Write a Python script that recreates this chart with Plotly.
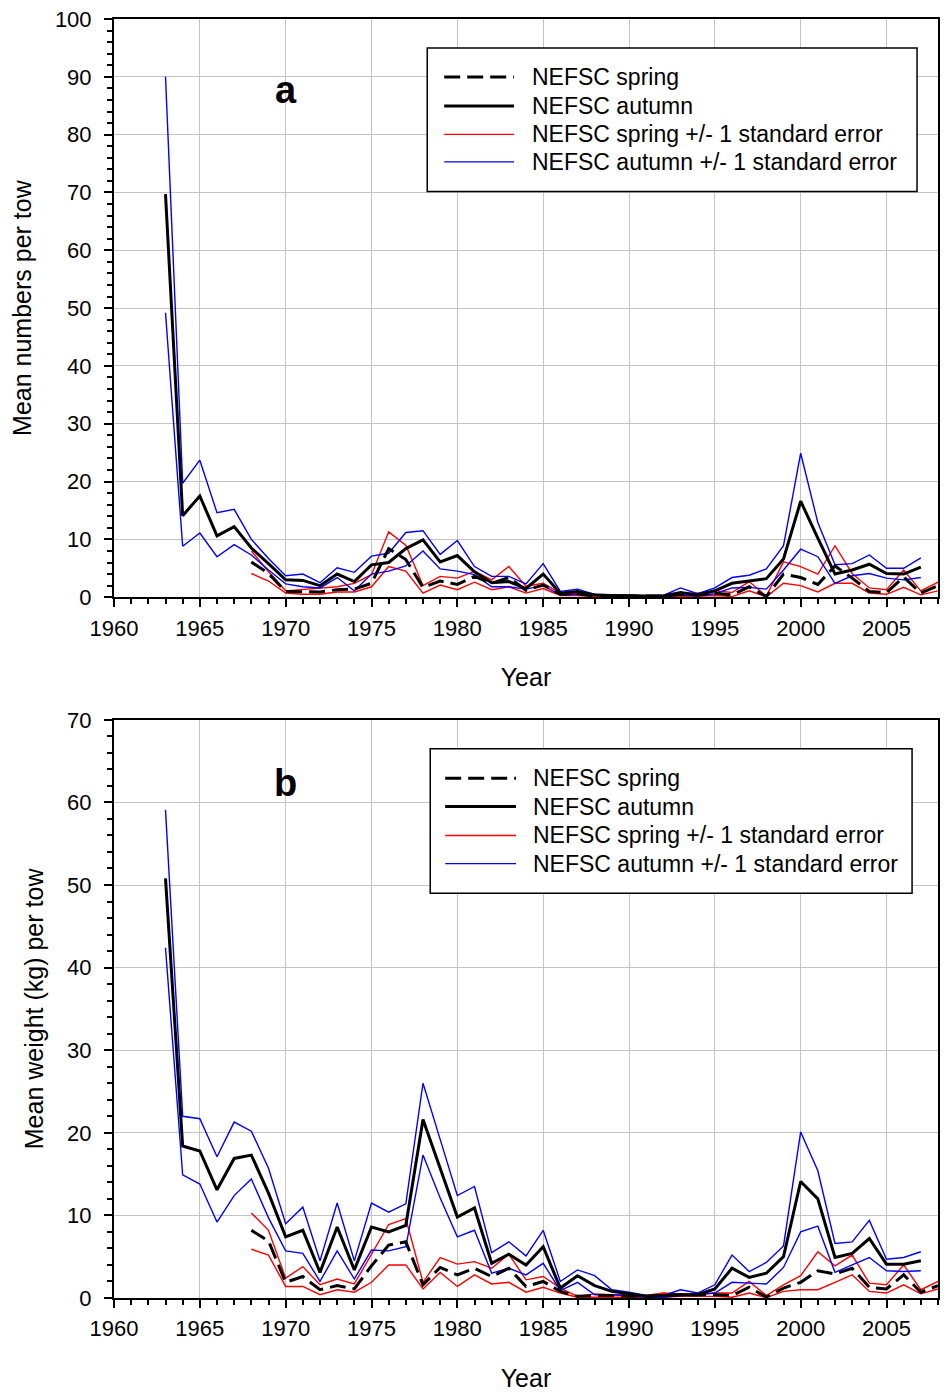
import plotly.graph_objects as go

# ---------------- data ----------------
years_autumn = list(range(1963, 2008))
years_spring = list(range(1968, 2009))

# Panel a: mean numbers per tow
a_autumn = [69.7, 14.1, 17.5, 10.6, 12.2, 8.5, 5.8, 3.0, 2.9, 2.0, 4.0, 2.7, 5.6, 6.0, 8.4,
            9.9, 6.1, 7.2, 4.4, 2.5, 2.7, 1.5, 4.0, 0.7, 1.0, 0.4, 0.3, 0.2, 0.2, 0.2, 0.8,
            0.4, 1.1, 2.4, 2.8, 3.2, 6.6, 16.6, 10.2, 4.0, 4.7, 5.7, 4.1, 4.0, 5.2]
a_autumn_up = [90.0, 19.7, 23.7, 14.6, 15.2, 10.0, 6.7, 3.7, 4.0, 2.5, 5.1, 4.3, 7.1, 7.6, 11.2,
               11.5, 7.4, 9.8, 5.3, 3.6, 3.6, 2.3, 5.8, 1.0, 1.4, 0.5, 0.4, 0.3, 0.2, 0.3, 1.6,
               0.6, 1.6, 3.4, 3.8, 4.9, 8.9, 24.9, 12.9, 5.6, 5.8, 7.3, 5.0, 5.0, 6.8]
a_autumn_lo = [49.2, 8.8, 11.1, 7.0, 9.1, 7.3, 4.7, 2.3, 1.8, 1.6, 3.4, 1.1, 4.0, 4.5, 5.4,
               8.0, 4.9, 4.5, 3.9, 1.8, 1.8, 1.4, 2.0, 0.4, 0.5, 0.3, 0.2, 0.15, 0.1, 0.1, 0.4,
               0.2, 0.6, 1.6, 1.7, 1.4, 4.7, 8.3, 7.0, 2.4, 3.7, 4.1, 3.3, 3.0, 3.4]
a_spring = [6.1, 4.1, 1.0, 0.9, 0.9, 1.3, 1.4, 2.4, 8.4, 6.5, 1.7, 2.8, 2.2, 3.6, 2.4, 3.4,
            1.2, 2.1, 0.5, 0.6, 0.2, 0.2, 0.2, 0.2, 0.2, 0.5, 0.4, 0.7, 0.4, 1.8, 0.1, 4.0,
            3.4, 2.2, 5.4, 3.3, 1.0, 0.8, 3.5, 0.7, 2.0]
a_spring_up = [8.0, 4.4, 1.1, 1.3, 1.6, 1.8, 2.4, 3.9, 11.3, 9.0, 2.0, 3.6, 3.3, 4.5, 3.0, 5.3,
               1.9, 2.4, 0.7, 0.6, 0.3, 0.2, 0.2, 0.2, 0.2, 0.7, 0.7, 1.1, 0.8, 2.7, 0.2, 6.1,
               5.3, 4.0, 8.9, 4.1, 1.6, 1.3, 4.7, 1.1, 2.6]
a_spring_lo = [4.1, 2.8, 0.7, 0.5, 0.5, 0.9, 0.9, 1.8, 5.3, 4.5, 0.7, 2.1, 1.3, 2.6, 1.3, 1.8,
               0.7, 1.5, 0.3, 0.3, 0.1, 0.1, 0.1, 0.1, 0.1, 0.2, 0.15, 0.3, 0.1, 1.1, 0.05, 2.4,
               2.0, 0.9, 2.4, 2.4, 0.7, 0.5, 1.7, 0.4, 1.1]

# Panel b: mean weight (kg) per tow
b_autumn = [50.8, 18.4, 17.8, 13.1, 16.9, 17.3, 12.7, 7.4, 8.2, 3.1, 8.6, 3.4, 8.6, 8.0, 8.8,
            21.6, 15.7, 9.8, 10.9, 4.2, 5.3, 4.0, 6.2, 1.2, 2.7, 1.5, 0.8, 0.5, 0.2, 0.3, 0.4,
            0.4, 1.1, 3.6, 2.5, 3.0, 5.0, 14.1, 12.0, 4.9, 5.4, 7.2, 4.1, 4.1, 4.5]
b_autumn_up = [59.1, 22.0, 21.7, 17.1, 21.3, 20.2, 15.7, 9.0, 11.0, 4.5, 11.5, 4.5, 11.5, 10.4, 11.4,
               26.0, 19.2, 12.4, 13.5, 5.5, 6.8, 5.1, 8.2, 2.0, 3.4, 2.7, 1.0, 0.7, 0.3, 0.3, 1.0,
               0.6, 1.6, 5.2, 3.2, 4.3, 6.3, 20.1, 15.4, 6.6, 6.8, 9.4, 4.7, 4.9, 5.6]
b_autumn_lo = [42.4, 14.9, 13.8, 9.2, 12.4, 14.4, 9.7, 5.7, 5.4, 2.0, 5.7, 2.3, 5.8, 5.7, 6.2,
               17.3, 12.1, 7.4, 8.2, 3.0, 3.6, 2.8, 4.2, 0.9, 1.9, 0.4, 0.4, 0.3, 0.1, 0.1, 0.3,
               0.4, 0.6, 1.9, 1.8, 1.7, 3.7, 8.0, 8.7, 3.1, 4.0, 4.9, 3.3, 3.2, 3.3]
b_spring = [8.2, 6.9, 1.9, 2.6, 1.0, 1.5, 1.1, 3.9, 6.4, 6.8, 1.6, 3.7, 2.8, 3.6, 2.6, 3.6,
            1.4, 2.0, 0.8, 0.2, 0.3, 0.3, 0.2, 0.2, 0.3, 0.4, 0.4, 0.4, 0.3, 1.3, 0.1, 1.2,
            1.9, 3.3, 2.9, 3.6, 1.3, 1.1, 2.8, 0.7, 1.5]
b_spring_up = [10.3, 8.2, 2.4, 3.8, 1.6, 2.3, 1.7, 5.3, 8.9, 9.6, 1.9, 4.9, 4.1, 4.4, 3.6, 5.3,
               2.2, 2.6, 1.2, 0.2, 0.5, 0.4, 0.3, 0.3, 0.6, 0.5, 0.5, 0.6, 0.6, 2.0, 0.3, 1.6,
               2.7, 5.6, 3.9, 5.2, 1.8, 1.6, 4.0, 1.0, 2.0]
b_spring_lo = [5.9, 5.2, 1.4, 1.4, 0.4, 1.0, 0.7, 1.9, 4.0, 4.0, 1.1, 3.1, 1.4, 2.8, 1.7, 1.9,
               0.7, 1.3, 0.6, 0.1, 0.1, 0.1, 0.1, 0.1, 0.1, 0.2, 0.2, 0.2, 0.1, 0.6, 0.05, 0.8,
               1.0, 1.0, 1.9, 2.8, 0.8, 0.6, 1.6, 0.5, 1.1]

legend_labels = ["NEFSC spring", "NEFSC autumn",
                 "NEFSC spring +/- 1 standard error", "NEFSC autumn +/- 1 standard error"]
x_ticks = [1960, 1965, 1970, 1975, 1980, 1985, 1990, 1995, 2000, 2005]

# ---------------- styles / layout ----------------
FONT = "Liberation Sans, Arial, Helvetica, sans-serif"
W, H = 947, 1395
ML, MR, MT, MB = 114, 7, 16, 96
PW, PH = W - ML - MR, H - MT - MB

def pxx(x):
    return (x - ML) / PW

def pxy(y):
    return (H - MB - y) / PH

styles = [
    dict(color="black", width=3, dash="16px,7px"),
    dict(color="black", width=3, dash="solid"),
    dict(color="#ff0000", width=1.4, dash="solid"),
    dict(color="#0000ff", width=1.4, dash="solid"),
]

fig = go.Figure()

def add_panel(xa, ya, sp, sp_up, sp_lo, au, au_up, au_lo):
    for yv in (sp_up, sp_lo):
        fig.add_trace(go.Scatter(x=years_spring, y=yv, mode="lines", line=styles[2],
                                 xaxis=xa, yaxis=ya, showlegend=False, hoverinfo="skip"))
    for yv in (au_up, au_lo):
        fig.add_trace(go.Scatter(x=years_autumn, y=yv, mode="lines", line=styles[3],
                                 xaxis=xa, yaxis=ya, showlegend=False, hoverinfo="skip"))
    fig.add_trace(go.Scatter(x=years_spring, y=sp, mode="lines", line=styles[0],
                             xaxis=xa, yaxis=ya, showlegend=False))
    fig.add_trace(go.Scatter(x=years_autumn, y=au, mode="lines", line=styles[1],
                             xaxis=xa, yaxis=ya, showlegend=False))

add_panel("x", "y", a_spring, a_spring_up, a_spring_lo, a_autumn, a_autumn_up, a_autumn_lo)
add_panel("x2", "y2", b_spring, b_spring_up, b_spring_lo, b_autumn, b_autumn_up, b_autumn_lo)

common_axis = dict(
    showline=True, linecolor="black", linewidth=2, mirror=True,
    ticks="outside", ticklen=8, tickwidth=1.5, tickcolor="black",
    showgrid=True, gridcolor="#c4c4c4", gridwidth=1.3,
    zeroline=False,
    tickfont=dict(family=FONT, size=22, color="black"),
)

xcommon = dict(common_axis, range=[1960, 2008], tickvals=x_ticks,
               minor=dict(dtick=1, tick0=1960, ticks="outside", ticklen=5, tickwidth=1.5,
                          tickcolor="black", showgrid=False),
               ticklabelstandoff=2,
               title=dict(text="Year", font=dict(family=FONT, size=25, color="black"), standoff=29))

ycommon = dict(common_axis, dtick=10, tick0=0,
               minor=dict(dtick=2, ticks="outside", ticklen=5, tickwidth=1.5,
                          tickcolor="black", showgrid=False),
               ticklabelstandoff=8)

dom_a = [pxy(596), 1.0]
dom_b = [0.0, pxy(719)]

fig.update_layout(
    width=W, height=H,
    margin=dict(l=ML, r=MR, t=MT, b=MB),
    paper_bgcolor="white", plot_bgcolor="white",
    font=dict(family=FONT, color="black"),
    showlegend=False,
    xaxis=dict(xcommon, anchor="y"),
    yaxis=dict(ycommon, range=[0, 100], domain=dom_a, anchor="x",
               title=dict(text="Mean numbers per tow",
                          font=dict(family=FONT, size=25, color="black"), standoff=16)),
    xaxis2=dict(xcommon, anchor="y2"),
    yaxis2=dict(ycommon, range=[0, 70], domain=dom_b, anchor="x2",
                title=dict(text="Mean weight (kg) per tow",
                           font=dict(family=FONT, size=25, color="black"), standoff=16)),
)

# panel letters
fig.add_annotation(x=1970, y=87.7, xref="x", yref="y", text="<b>a</b>", showarrow=False,
                   font=dict(family=FONT, size=38, color="black"))
fig.add_annotation(x=1970, y=62.4, xref="x2", yref="y2", text="<b>b</b>", showarrow=False,
                   font=dict(family=FONT, size=38, color="black"))

# boxed legends (pixel geometry of the legend frames)
def add_legend(box, line_x, text_x, rows):
    x0, y0, x1, y1 = box
    fig.add_shape(type="rect", xref="paper", yref="paper",
                  x0=pxx(x0), x1=pxx(x1), y0=pxy(y1), y1=pxy(y0),
                  line=dict(color="black", width=1.5), fillcolor="white", layer="above")
    for st, lab, ry in zip(styles, legend_labels, rows):
        fig.add_shape(type="line", xref="paper", yref="paper",
                      x0=pxx(line_x[0]), x1=pxx(line_x[1]), y0=pxy(ry), y1=pxy(ry),
                      line=dict(color=st["color"], width=st["width"], dash=st["dash"]),
                      layer="above")
        fig.add_annotation(x=pxx(text_x), y=pxy(ry), xref="paper", yref="paper",
                           text=lab, showarrow=False, xanchor="left", yanchor="middle",
                           font=dict(family=FONT, size=23, color="black"))

add_legend((428, 45, 919, 189), (445, 515), 531, [74.3, 103.3, 131.7, 159.3])
add_legend((431, 748, 914, 893), (446, 517), 532, [777.7, 806, 835, 863.3])

fig.write_html("out.html")
